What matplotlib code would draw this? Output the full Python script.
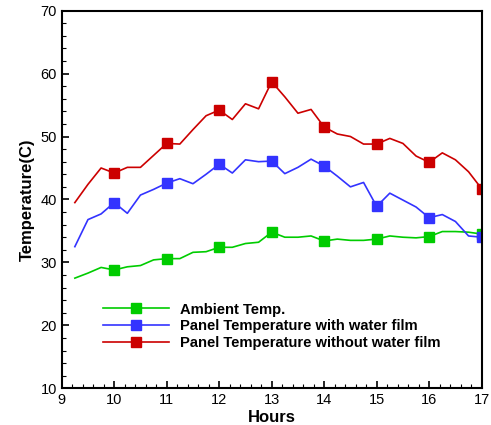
import numpy as np
import matplotlib.pyplot as plt
from matplotlib.ticker import MultipleLocator

plt.rcParams['font.family'] = ['Liberation Sans', 'DejaVu Sans']

hours = np.arange(9.25, 17.01, 0.25)

ambient = [27.5, 28.3, 29.2, 28.8, 29.3, 29.5, 30.4, 30.6, 30.6, 31.6, 31.7, 32.4,
           32.4, 33.0, 33.2, 34.8, 34.0, 34.0, 34.2, 33.4, 33.7, 33.5, 33.5, 33.7,
           34.2, 34.0, 33.9, 34.1, 34.9, 34.9, 34.8, 34.5]
with_film = [32.5, 36.8, 37.7, 39.5, 37.8, 40.7, 41.6, 42.6, 43.3, 42.5, 44.0, 45.6,
             44.2, 46.3, 46.0, 46.1, 44.1, 45.1, 46.4, 45.3, 43.7, 42.0, 42.7, 38.9,
             41.0, 39.9, 38.8, 37.1, 37.6, 36.5, 34.2, 34.0]
without_film = [39.5, 42.4, 45.0, 44.2, 45.1, 45.1, 47.0, 48.9, 48.8, 51.1, 53.3, 54.2,
                52.7, 55.2, 54.4, 58.7, 56.3, 53.7, 54.3, 51.5, 50.4, 50.0, 48.8, 48.8,
                49.7, 48.9, 46.9, 45.9, 47.4, 46.3, 44.4, 41.7]

labels = ['Ambient Temp.',
          'Panel Temperature with water film',
          'Panel Temperature without water film']
colors = ['#00CC00', '#3333FF', '#CC0000']

fig = plt.figure(figsize=(4.91, 4.25), dpi=100)
ax = fig.add_axes([0.1257, 0.0864, 0.8553, 0.8886])

marks = list(range(3, len(hours), 4))
for y, lab, c in zip([ambient, with_film, without_film], labels, colors):
    ax.plot(hours, y, '-', color=c, lw=1.2, marker='s', ms=6.5,
            markevery=marks, label=lab)

ax.set_xlim(9, 17)
ax.set_ylim(10, 70)
ax.xaxis.set_major_locator(MultipleLocator(1))
ax.xaxis.set_minor_locator(MultipleLocator(0.2))
ax.yaxis.set_major_locator(MultipleLocator(10))
ax.yaxis.set_minor_locator(MultipleLocator(2))
ax.tick_params(which='both', direction='in', labelsize=10.5, top=False, right=False)
ax.tick_params(which='major', length=5, width=1.2)
ax.tick_params(which='minor', length=3, width=0.8)
for s in ax.spines.values():
    s.set_linewidth(1.5)

ax.set_xlabel('Hours', fontsize=12, fontweight='bold', labelpad=2)
ax.set_ylabel('Temperature(C)', fontsize=12, fontweight='bold', labelpad=4)

ax.legend(loc='lower left', bbox_to_anchor=(0.08, 0.082), frameon=False,
          prop={'weight': 'bold', 'size': 10.6}, handlelength=4.5,
          labelspacing=0.18, handletextpad=0.75, borderpad=0)

fig.savefig('out.png', dpi=100)
